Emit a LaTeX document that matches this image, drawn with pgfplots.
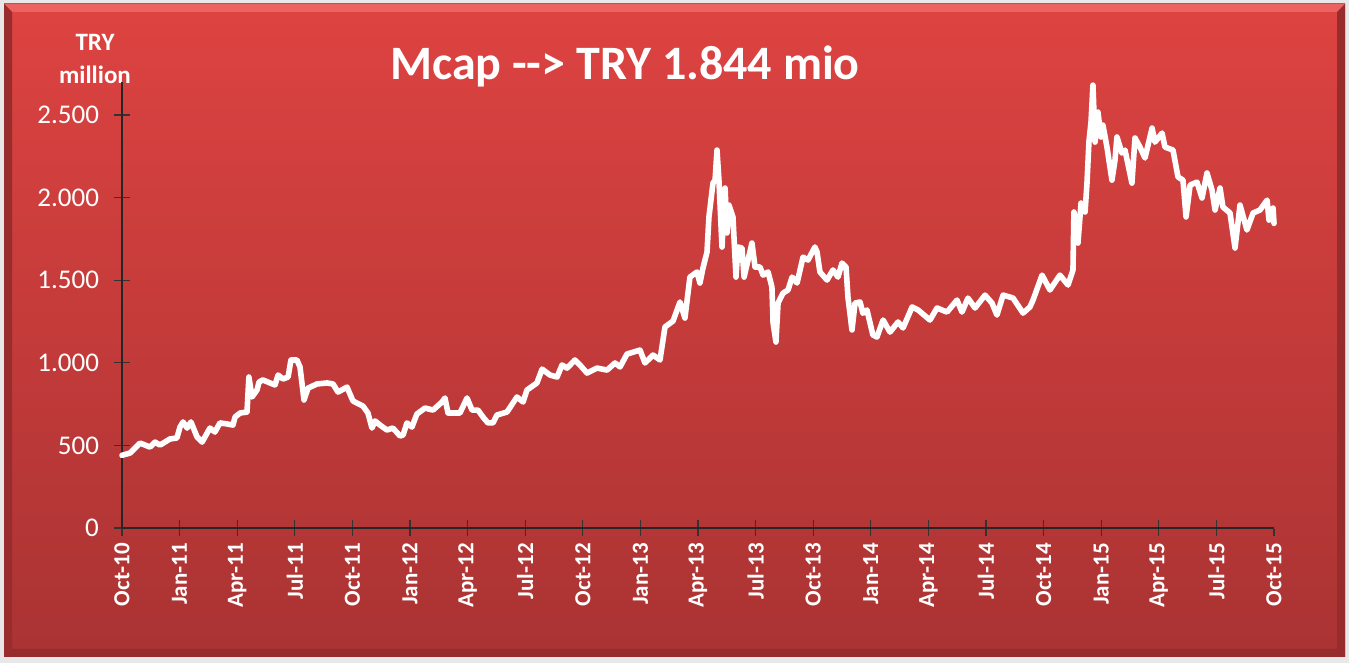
\documentclass[border=0pt]{standalone}
\usepackage{fontspec}
\setmainfont{Carlito}
\usepackage{pgfplots}
\pgfplotsset{compat=1.18}
\definecolor{rTop}{RGB}{221,67,65}
\definecolor{rBot}{RGB}{170,51,51}
\definecolor{rLight}{RGB}{236,98,96}
\definecolor{rDark}{RGB}{150,44,44}
\definecolor{bgGray}{RGB}{232,232,232}
\begin{document}
\begin{tikzpicture}
% frame (1px = 0.5pt)
\fill[bgGray] (0,0) rectangle (674.5pt,331.5pt);
\useasboundingbox (0,0) rectangle (674.5pt,331.5pt);
\shade[top color=rTop, bottom color=rBot] (2pt,3pt) rectangle (672.5pt,329.5pt);
\fill[rLight] (2pt,329.5pt) -- (672.5pt,329.5pt) -- (668.5pt,325.5pt) -- (6pt,325.5pt) -- cycle;
\fill[rDark] (672.5pt,329.5pt) -- (672.5pt,3pt) -- (668.5pt,7pt) -- (668.5pt,325.5pt) -- cycle;
\fill[rDark] (2pt,3pt) -- (672.5pt,3pt) -- (668.5pt,7pt) -- (6pt,7pt) -- cycle;
\fill[rDark!85!rBot] (2pt,3pt) -- (6pt,7pt) -- (6pt,325.5pt) -- (2pt,329.5pt) -- cycle;

\node[text=white, font=\bfseries\fontsize{24}{24}\selectfont] at (312.5pt,298.5pt) {Mcap -{}-{}> TRY 1.844 mio};
\node[text=white, font=\bfseries\fontsize{12.5}{16.5}\selectfont, align=center] at (47.5pt,302pt) {TRY\\million};

\begin{axis}[
    at={(61pt,67.5pt)}, anchor=south west,
    scale only axis, width=576pt, height=223pt,
    xmin=0, xmax=60, ymin=0, ymax=2700,
    axis x line*=bottom, axis y line*=left,
    axis line style={black!85, line width=0.6pt},
    tick align=center, major tick length=8pt,
    every tick/.style={black!80, line width=0.6pt},
    x tick style={shorten >=4.5pt},
    xtick={0,3,...,60},
    xticklabels={Oct-10,Jan-11,Apr-11,Jul-11,Oct-11,Jan-12,Apr-12,Jul-12,Oct-12,Jan-13,Apr-13,Jul-13,Oct-13,Jan-14,Apr-14,Jul-14,Oct-14,Jan-15,Apr-15,Jul-15,Oct-15},
    x tick label style={rotate=90, anchor=east, text=white, font=\bfseries\fontsize{11.5}{11.5}\selectfont},
    ytick={0,500,1000,1500,2000,2500},
    yticklabels={0,500,1.000,1.500,2.000,2.500},
    y tick label style={text=white, font=\fontsize{13.5}{13.5}\selectfont, xshift=-4pt},
    /pgf/number format/assume math mode=true,
    clip=false,
]
\addplot[white, line width=2.8pt, line join=round, line cap=round] coordinates {
(0,440) (0.42,454) (0.94,514) (1.46,490) (1.72,520) (1.98,502) (2.50,539) (2.86,545)
(3.02,611) (3.18,642) (3.39,605) (3.59,642) (3.91,551) (4.17,520) (4.58,605) (4.84,581)
(5.10,636) (5.47,630) (5.78,623) (5.89,672) (6.15,696) (6.51,702) (6.61,914) (6.77,793)
(7.03,835) (7.14,884) (7.34,896) (7.71,878) (7.97,866) (8.13,926) (8.39,902) (8.65,914)
(8.80,1017) (9.11,1017) (9.27,975) (9.48,775) (9.69,847) (10.16,872) (10.68,878) (10.99,872)
(11.25,823) (11.72,853) (12.03,769) (12.55,738) (12.81,696) (13.02,605) (13.18,648) (13.44,623)
(13.80,593) (14.11,605) (14.48,557) (14.64,563) (14.84,636) (15.10,611) (15.36,690) (15.78,726)
(16.20,714) (16.67,763) (16.82,787) (16.98,696) (17.60,696) (17.97,787) (18.23,714) (18.54,714)
(18.80,672) (19.06,636) (19.32,636) (19.53,684) (20.05,702) (20.57,793) (20.89,763) (21.09,835)
(21.61,878) (21.88,962) (22.29,926) (22.66,914) (22.92,987) (23.18,968) (23.59,1017) (23.85,987)
(24.22,938) (24.74,968) (25.26,956) (25.68,999) (25.94,975) (26.30,1053) (26.98,1077) (27.24,999)
(27.66,1047) (28.02,1017) (28.28,1217) (28.70,1253) (29.06,1368) (29.32,1271) (29.58,1519) (29.95,1550)
(30.10,1483) (30.26,1574) (30.47,1671) (30.57,1883) (30.78,2088) (30.89,2106) (30.99,2288) (31.09,2106)
(31.25,1701) (31.41,2058) (31.51,1786) (31.61,1955) (31.82,1883) (31.98,1519) (32.08,1701) (32.29,1695)
(32.40,1519) (32.81,1725) (32.97,1580) (33.23,1580) (33.39,1531) (33.65,1550) (33.85,1459) (33.91,1241)
(34.06,1126) (34.17,1362) (34.43,1422) (34.69,1441) (34.90,1519) (35.16,1483) (35.47,1640) (35.73,1622)
(36.09,1701) (36.20,1671) (36.35,1550) (36.72,1501) (37.03,1562) (37.29,1519) (37.50,1604) (37.71,1580)
(37.81,1398) (38.02,1199) (38.18,1362) (38.44,1368) (38.59,1300) (38.80,1320) (39.11,1168) (39.32,1156)
(39.64,1259) (40.00,1186) (40.42,1247) (40.68,1211) (41.15,1338) (41.46,1320) (42.08,1259) (42.45,1332)
(42.97,1307) (43.49,1380) (43.75,1307) (44.06,1392) (44.43,1332) (44.95,1410) (45.31,1362) (45.57,1289)
(45.89,1410) (46.41,1392) (46.93,1301) (47.29,1338) (47.45,1380) (47.92,1531) (48.33,1441) (48.85,1531)
(49.27,1471) (49.53,1562) (49.58,1913) (49.79,1725) (49.95,1967) (50.16,1913) (50.26,2088) (50.36,2336)
(50.47,2458) (50.57,2681) (50.68,2336) (50.83,2518) (50.99,2367) (51.09,2439) (51.30,2306) (51.56,2106)
(51.72,2228) (51.82,2367) (52.08,2270) (52.24,2288) (52.60,2088) (52.76,2361) (53.02,2306) (53.28,2240)
(53.65,2421) (53.80,2336) (54.17,2391) (54.32,2306) (54.74,2288) (55.00,2125) (55.26,2106) (55.42,1883)
(55.63,2076) (55.99,2094) (56.25,1998) (56.51,2149) (56.77,2046) (56.93,1925) (57.19,2058) (57.34,1943)
(57.71,1907) (57.97,1695) (58.23,1955) (58.59,1804) (58.91,1907) (59.27,1925) (59.64,1985) (59.74,1864)
(59.95,1937) (60,1844)
};
\end{axis}
\end{tikzpicture}
\end{document}
